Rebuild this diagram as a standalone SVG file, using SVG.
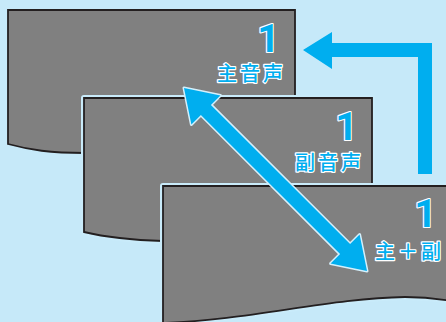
<svg xmlns="http://www.w3.org/2000/svg" width="446" height="322" viewBox="0 0 446 322">
<style>
.bg{fill:#c6e9f9}
.halo{fill:none;stroke:#c9ebfa;stroke-width:6;stroke-linejoin:round}
.sheet{fill:#808080;stroke:#231f20;stroke-width:1.8;stroke-linejoin:miter}
.num{font-family:Roboto,"Liberation Sans",sans-serif;font-weight:700;font-size:39px;fill:#00aeef;stroke:#ffffff;stroke-width:2.2;paint-order:stroke;stroke-linejoin:round;text-anchor:middle}
.lbl{font-family:"Noto Sans CJK JP","Noto Sans CJK SC",sans-serif;font-weight:500;font-size:20px;letter-spacing:3px;fill:#00aeef;stroke:#ffffff;stroke-width:2.4;paint-order:stroke;stroke-linejoin:round}
.arrow{fill:#00aeef}
.arrow2{fill:#00aeef;stroke:#d4f0fc;stroke-width:3;stroke-linejoin:round;paint-order:stroke}
</style>
<rect class="bg" x="0" y="0" width="446" height="322"/>
<g id="sheet1">
<path class="sheet" d="M8,10 H295 V153 H85 C50,153 30,150 8,144 Z"/>
<text class="num" x="268.5" y="52">1</text>
<text class="lbl" x="217" y="81">主音声</text>
</g>
<g id="sheet2">
<path class="halo" d="M84,98 H372 V241 H163 C130,240 105,237 84,232 Z"/>
<path class="sheet" d="M84,98 H372 V241 H163 C130,240 105,237 84,232 Z"/>
<text class="num" x="346.5" y="140">1</text>
<text class="lbl" x="295" y="170">副音声</text>
</g>
<g id="sheet3">
<path class="halo" d="M163,186 H452 V301 C440,299 425,297 405,297 C330,298 250,320 163,323 Z"/>
<path class="sheet" d="M163,186 H452 V301 C440,299 425,297 405,297 C330,298 250,320 163,323 Z"/>
<text class="num" x="425.5" y="227">1</text>
<text class="lbl" x="375" y="259">主＋副</text>
</g>
<g id="connectors">
<path class="arrow" d="M303,50 L332,32 V43 H432 V174 H418 V57 H332 V69 Z"/>
<path class="arrow2" d="M184,88 L220.4,95.4 L210.9,104.9 L350.1,244.1 L359.6,234.6 L367,271 L330.6,263.6 L340.1,254.1 L200.9,114.9 L191.4,124.4 Z"/>
</g>
</svg>
